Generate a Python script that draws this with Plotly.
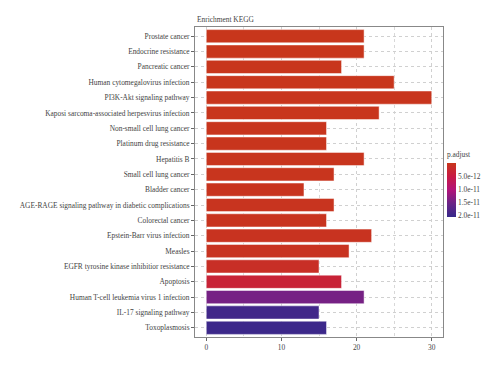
import plotly.graph_objects as go

categories = [
    "Prostate cancer", "Endocrine resistance", "Pancreatic cancer",
    "Human cytomegalovirus infection", "PI3K-Akt signaling pathway",
    "Kaposi sarcoma-associated herpesvirus infection", "Non-small cell lung cancer",
    "Platinum drug resistance", "Hepatitis B", "Small cell lung cancer",
    "Bladder cancer", "AGE-RAGE signaling pathway in diabetic complications",
    "Colorectal cancer", "Epstein-Barr virus infection", "Measles",
    "EGFR tyrosine kinase inhibitior resistance", "Apoptosis",
    "Human T-cell leukemia virus 1 infection", "IL-17 signaling pathway", "Toxoplasmosis",
]
counts = [21, 21, 18, 25, 30, 23, 16, 16, 21, 17, 13, 17, 16, 22, 19, 15, 18, 21, 15, 16]
p_adjust = [1e-14, 2e-14, 5e-14, 6e-14, 1e-13, 1.2e-13, 1.5e-13, 1.8e-13, 2e-13, 2.5e-13,
            3e-13, 3.5e-13, 4e-13, 5e-13, 6e-13, 1.3e-12, 3.5e-12, 1.45e-11, 1.95e-11, 2.0e-11]
cbar_ticks = [5e-12, 1e-11, 1.5e-11, 2e-11]
cbar_labels = ["5.0e-12", "1.0e-11", "1.5e-11", "2.0e-11"]

pmin, pmax = 0.0, 2.05e-11
neg = [-p for p in p_adjust]

colorscale = [
    [0.0, "#37288a"],
    [0.25, "#6a2486"],
    [0.5, "#b2137a"],
    [0.75, "#c81a44"],
    [1.0, "#c8361c"],
]

font_family = "Liberation Serif"
fs = 7.4

fig = go.Figure(go.Bar(
    x=counts, y=categories, orientation="h",
    width=0.86,
    marker=dict(
        color=neg, colorscale=colorscale, cmin=-pmax, cmax=-pmin,
        line=dict(color="rgba(255,255,255,0.6)", width=0.8),
        colorbar=dict(
            title=dict(text="p.adjust", side="top", font=dict(size=fs, color="#444")),
            tickvals=[-t for t in cbar_ticks], ticktext=cbar_labels,
            tickfont=dict(size=fs, color="#444"),
            thickness=9, len=68, lenmode="pixels",
            x=1.016, xanchor="left", y=0.607, yanchor="top",
            outlinewidth=0, ticks="", ticklen=0, xpad=0, ypad=0,
        ),
    ),
    showlegend=False,
))

fig.update_layout(
    width=500, height=368,
    margin=dict(l=187, r=65, t=19, b=39, autoexpand=False),
    paper_bgcolor="white", plot_bgcolor="white",
    font=dict(family=font_family, size=fs, color="#444"),
    annotations=[dict(text="Enrichment KEGG", x=0, y=1, xref="paper", yref="paper",
                      xanchor="left", yanchor="bottom", showarrow=False, yshift=1,
                      font=dict(size=fs, color="#444"))],
)
fig.update_xaxes(
    range=[-1.5, 31.5], tickvals=[0, 10, 20, 30], ticks="outside", ticklen=3,
    tickcolor="#666", tickfont=dict(size=fs, color="#444"), automargin=False,
    showgrid=True, gridcolor="#d0d0d0", griddash="dot", gridwidth=1,
    minor=dict(tickvals=[5, 15, 25], showgrid=True, gridcolor="#d8d8d8", griddash="dot"),
    showline=True, linecolor="#888", linewidth=1, mirror=True, zeroline=False,
)
fig.update_yaxes(
    autorange=False, range=[19.6, -0.6], categoryorder="array", categoryarray=categories,
    ticks="outside", ticklen=3, tickcolor="#666", tickfont=dict(size=fs, color="#444"),
    automargin=False,
    showgrid=True, gridcolor="#d0d0d0", griddash="dot", gridwidth=1,
    showline=True, linecolor="#888", linewidth=1, mirror=True,
)

fig.write_html("out.html")
